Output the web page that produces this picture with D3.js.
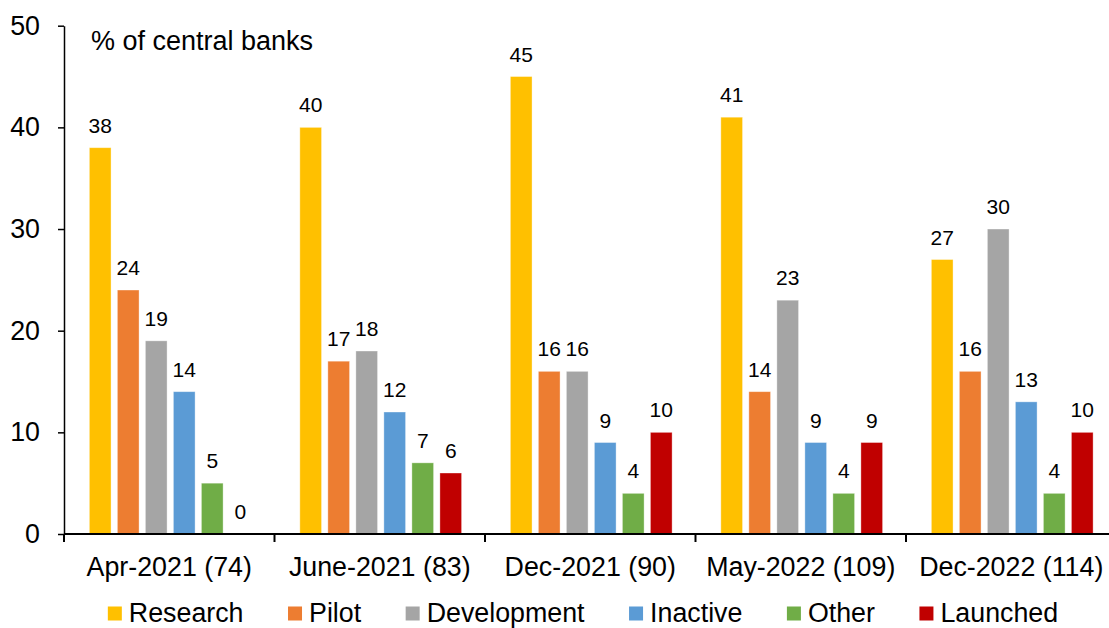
<!DOCTYPE html>
<html>
<head>
<meta charset="utf-8">
<script src="https://cdn.jsdelivr.net/npm/d3@7"></script>
<style>
  html, body { margin: 0; padding: 0; background: #fff; }
  svg { display: block; font-family: "Liberation Sans", Arial, sans-serif; }
</style>
</head>
<body>
<svg id="chart" width="1109" height="628"></svg>
<script>
// Survey rounds (number of responding central banks in brackets)
const categories = ["Apr-2021 (74)", "June-2021 (83)", "Dec-2021 (90)", "May-2022 (109)", "Dec-2022 (114)"];
const seriesNames = ["Research", "Pilot", "Development", "Inactive", "Other", "Launched"];
const seriesColors = ["#FFC000", "#ED7D31", "#A5A5A5", "#5B9BD5", "#70AD47", "#C00000"];

// % of central banks in each stage
const research    = [38, 40, 45, 41, 27];
const pilot       = [24, 17, 16, 14, 16];
const development = [19, 18, 16, 23, 30];
const inactive    = [14, 12, 9, 9, 13];
const other       = [5, 7, 4, 4, 4];
const launched    = [0, 6, 10, 9, 10];

const yTicks = [0, 10, 20, 30, 40, 50];
const yLabel = "% of central banks";

const seriesValues = [research, pilot, development, inactive, other, launched];
const rows = categories.map((c, i) => ({
  category: c,
  values: seriesNames.map((s, j) => ({ series: s, color: seriesColors[j], value: seriesValues[j][i] }))
}));

const svg = d3.select("#chart");
const bigFont = 26.8;
const valueFont = 21;

const x0 = d3.scaleBand().domain(categories).range([64, 1116.5]);
const x1 = d3.scaleBand().domain(seriesNames).range([0, x0.bandwidth()])
  .paddingInner(0.225).paddingOuter(0.87).align(0.52);
const y = d3.scaleLinear().domain([0, 50]).range([534, 25.7]);

// Bars
const groups = svg.append("g").selectAll("g").data(rows).join("g")
  .attr("transform", d => `translate(${x0(d.category)},0)`);

groups.selectAll("rect").data(d => d.values).join("rect")
  .attr("x", d => x1(d.series))
  .attr("y", d => y(d.value))
  .attr("width", x1.bandwidth())
  .attr("height", d => y(0) - y(d.value))
  .attr("fill", d => d.color)
  .attr("stroke", "#fff")
  .attr("stroke-opacity", 0.45)
  .attr("stroke-width", 0.8);

// Value labels above bars
groups.selectAll("text").data(d => d.values).join("text")
  .attr("x", d => x1(d.series) + x1.bandwidth() / 2)
  .attr("y", d => y(d.value) - 15)
  .attr("text-anchor", "middle")
  .attr("font-size", valueFont)
  .attr("fill", "#000")
  .text(d => d.value);

// Y axis
const yAxis = svg.append("g")
  .attr("transform", `translate(${x0.range()[0]},0)`)
  .call(d3.axisLeft(y).tickValues(yTicks).tickSize(6).tickSizeOuter(0).tickPadding(18));
yAxis.select(".domain").attr("stroke", "#000").attr("stroke-width", 1.5);
yAxis.selectAll(".tick line").attr("stroke", "#000").attr("stroke-width", 1.5);
yAxis.selectAll(".tick text").attr("font-size", bigFont).attr("fill", "#000")
  .attr("font-family", "Liberation Sans, Arial, sans-serif");

// X axis: baseline, ticks at category boundaries, centred labels
const xAxis = svg.append("g");
xAxis.append("line")
  .attr("x1", x0.range()[0]).attr("x2", x0.range()[1])
  .attr("y1", y(0)).attr("y2", y(0))
  .attr("stroke", "#000").attr("stroke-width", 2);
const boundaries = categories.map(c => x0(c)).concat([x0.range()[1]]);
xAxis.selectAll("line.tick").data(boundaries).join("line")
  .attr("class", "tick")
  .attr("x1", d => d).attr("x2", d => d)
  .attr("y1", y(0)).attr("y2", y(0) + 8)
  .attr("stroke", "#000").attr("stroke-width", 2);
xAxis.selectAll("text").data(categories).join("text")
  .attr("x", d => x0(d) + x0.bandwidth() / 2)
  .attr("y", y(0) + 42)
  .attr("text-anchor", "middle")
  .attr("font-size", bigFont)
  .attr("fill", "#000")
  .text(d => d);

// Unit label inside the plot
svg.append("text")
  .attr("x", 91)
  .attr("y", 50)
  .attr("font-size", 27)
  .attr("fill", "#000")
  .text(yLabel);

// Legend, laid out from text widths and centred under the plot
const legend = svg.append("g");
const items = legend.selectAll("g").data(seriesNames.map((s, i) => ({ name: s, color: seriesColors[i] })))
  .join("g");
items.append("rect")
  .attr("width", 14).attr("height", 14)
  .attr("y", 606.5)
  .attr("fill", d => d.color);
items.append("text")
  .attr("x", 21)
  .attr("y", 622)
  .attr("font-size", bigFont)
  .attr("fill", "#000")
  .text(d => d.name);
let cursor = 0;
items.each(function () {
  const w = d3.select(this).select("text").node().getComputedTextLength();
  d3.select(this).attr("data-offset", cursor);
  cursor += 21 + w + 44.5;
});
const legendWidth = cursor - 44.5;
const legendStart = 583 - legendWidth / 2;
items.attr("transform", function () {
  return `translate(${legendStart + (+d3.select(this).attr("data-offset"))},0)`;
});
</script>
</body>
</html>
